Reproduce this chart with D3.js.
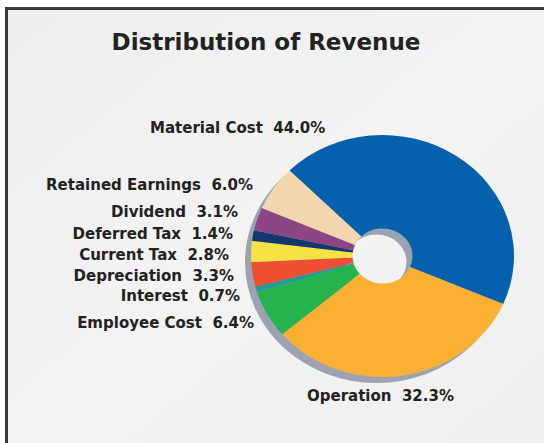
<!DOCTYPE html>
<meta charset="utf-8">
<style>

html, body {
  margin: 0;
  background: #fff;
}

svg {
  display: block;
}

text {
  font-family: "DejaVu Sans", Verdana, sans-serif;
  font-weight: bold;
  fill: #222;
  white-space: pre;
}

</style>
<svg class="chart"></svg>
<script src="https://d3js.org/d3.v7.min.js"></script>
<script>

var width = 544;
var height = 443;

// data, clockwise from the upper left
var categories = ['Material Cost', 'Operation', 'Employee Cost', 'Interest', 'Depreciation',
  'Current Tax', 'Deferred Tax', 'Dividend', 'Retained Earnings'];
var shares = [44.0, 32.3, 6.4, 0.7, 3.3, 2.8, 1.4, 3.1, 6.0];
var colors = ['#0461ae', '#fbb034', '#25b34b', '#1a9e9a', '#ef4e31',
  '#f7e245', '#12386f', '#8c4585', '#f2d6ad'];

// where each label sits (hand placed, like the original)
var labelPos = [
  {x: 150, y: 133, anchor: 'start'},
  {x: 307, y: 401, anchor: 'start'},
  {x: 254, y: 328, anchor: 'end'},
  {x: 240, y: 301, anchor: 'end'},
  {x: 234, y: 281, anchor: 'end'},
  {x: 229, y: 260, anchor: 'end'},
  {x: 233, y: 239, anchor: 'end'},
  {x: 238, y: 217, anchor: 'end'},
  {x: 253, y: 190, anchor: 'end'}
];

var cx = 382.5, cy = 256;
var outerR = 131.5, innerR = 30;
var squash = 0.92;

var svg = d3.select('svg.chart')
  .attr('width', width)
  .attr('height', height);

var defs = svg.append('defs');
var grad = defs.append('linearGradient')
  .attr('id', 'bg')
  .attr('x1', 0).attr('y1', 0)
  .attr('x2', 1).attr('y2', 1);
grad.append('stop').attr('offset', 0).attr('stop-color', '#eeeeee');
grad.append('stop').attr('offset', 0.5).attr('stop-color', '#f3f3f3');
grad.append('stop').attr('offset', 1).attr('stop-color', '#efefef');

// panel with its frame running off the bottom right
svg.append('rect')
  .attr('x', 6.5)
  .attr('y', 8.5)
  .attr('width', width + 10)
  .attr('height', height + 10)
  .attr('fill', 'url(#bg)')
  .attr('stroke', '#3a3a3a')
  .attr('stroke-width', 3);

svg.append('text')
  .attr('x', 266)
  .attr('y', 50)
  .attr('text-anchor', 'middle')
  .style('font-size', '23px')
  .text('Distribution of Revenue');

var pie = d3.pie()
  .sort(null)
  .startAngle(-Math.PI / 4)
  .endAngle(-Math.PI / 4 + 2 * Math.PI)
  .value(function (d) { return d; });

var arc = d3.arc()
  .innerRadius(innerR)
  .outerRadius(outerR);

// drop shadow, offset down-left
svg.append('path')
  .attr('transform', 'translate(' + (cx - 6) + ',' + (cy + 6) + ') scale(1,' + squash + ')')
  .attr('fill', '#9ba2b1')
  .attr('d', arc({startAngle: 0, endAngle: 2 * Math.PI}));

var g = svg.append('g')
  .attr('transform', 'translate(' + cx + ',' + cy + ') scale(1,' + squash + ')');

g.selectAll('path')
  .data(pie(shares))
  .enter().append('path')
  .attr('fill', function (d, i) { return colors[i]; })
  .attr('d', arc);

svg.append('g')
  .selectAll('text')
  .data(categories)
  .enter().append('text')
  .attr('x', function (d, i) { return labelPos[i].x; })
  .attr('y', function (d, i) { return labelPos[i].y; })
  .attr('text-anchor', function (d, i) { return labelPos[i].anchor; })
  .style('font-size', '15px')
  .text(function (d, i) { return d + '  ' + shares[i].toFixed(1) + '%'; });

</script>
